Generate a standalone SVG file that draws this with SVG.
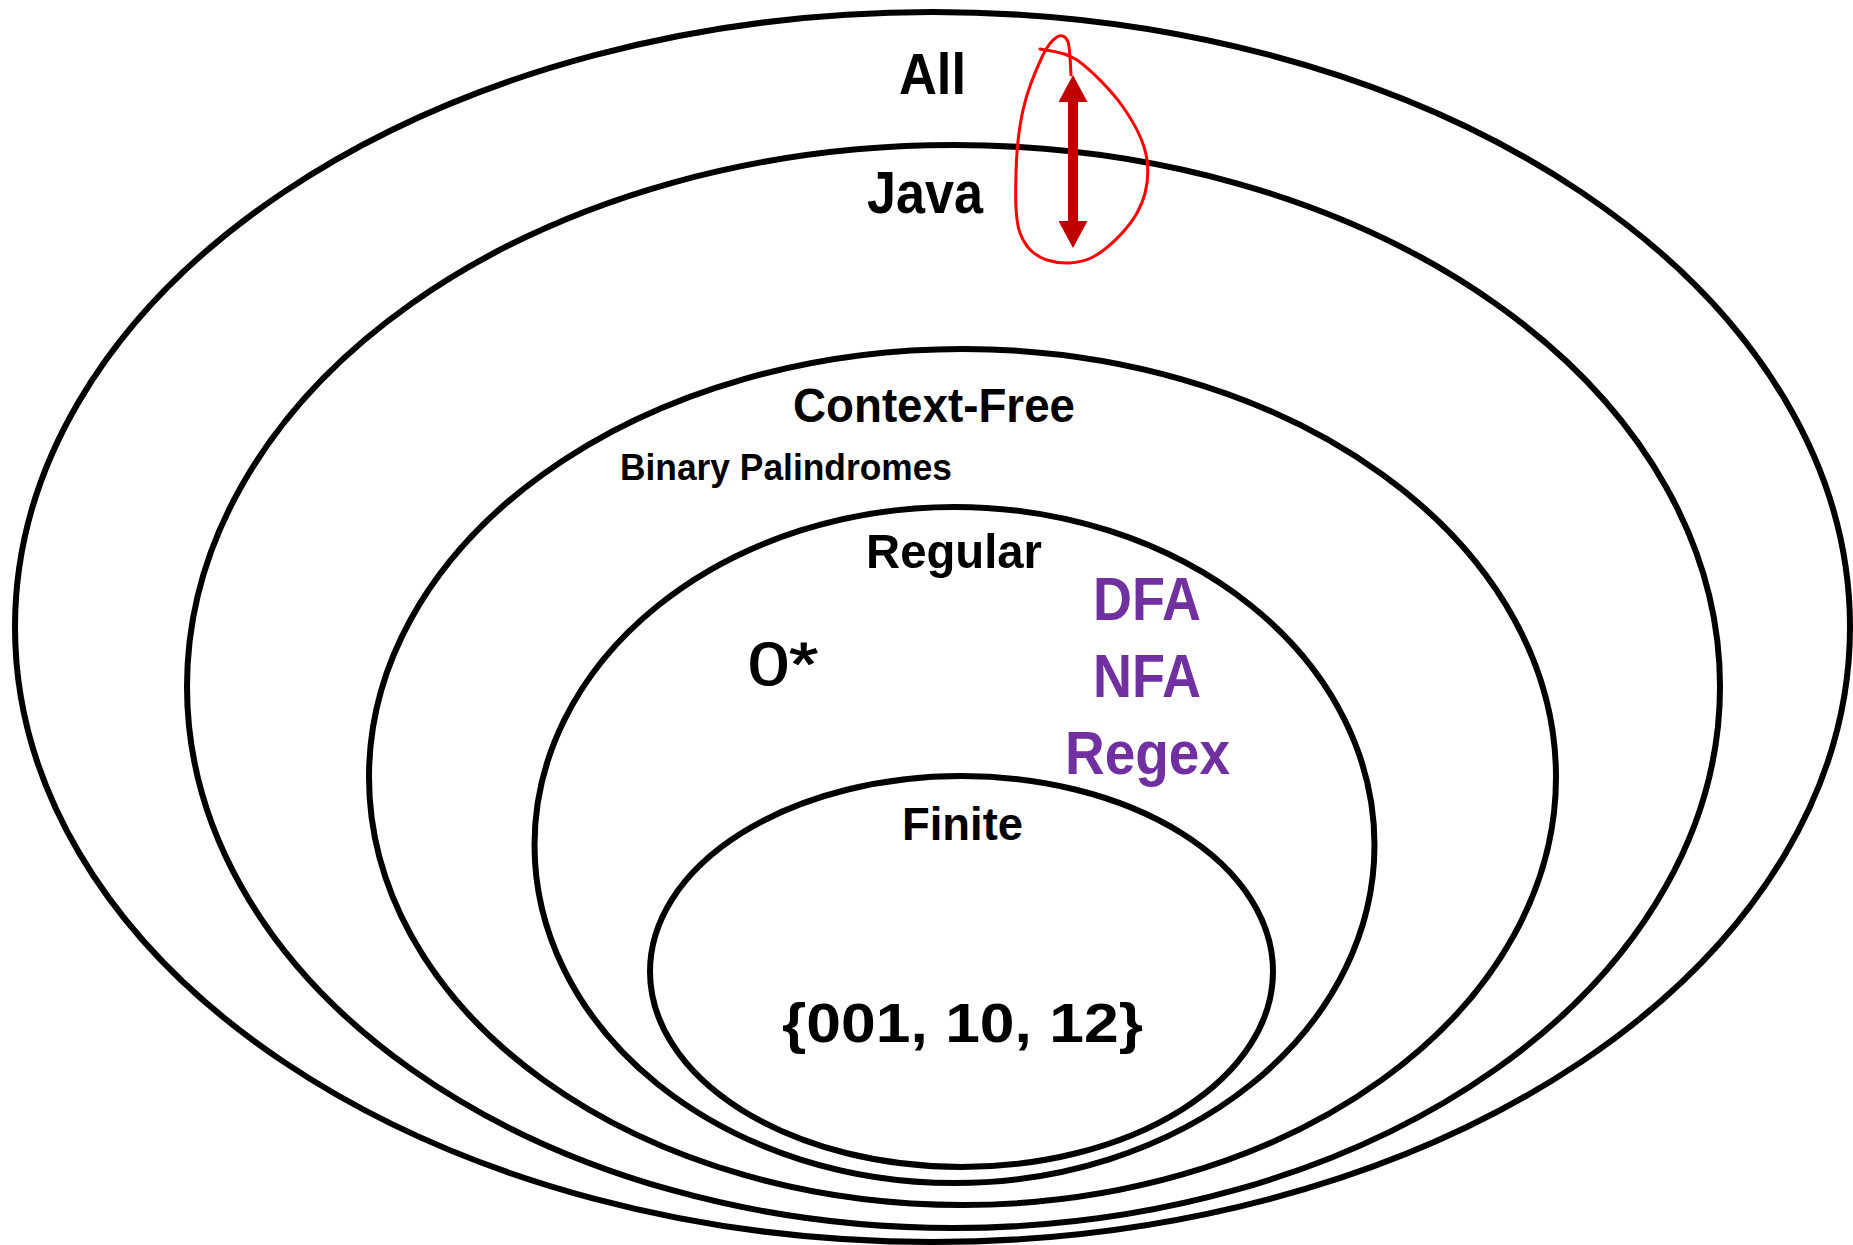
<svg xmlns="http://www.w3.org/2000/svg" width="1853" height="1245" viewBox="0 0 1853 1245">
<style>
.set{fill:none;stroke:#000;stroke-width:6}
.lbl{font-family:"Liberation Sans",Arial,sans-serif;font-weight:bold;fill:#000}
.reg{font-family:"Liberation Sans",Arial,sans-serif;font-weight:normal;fill:#000;stroke:#000;stroke-width:1.2}
.pur{font-family:"Liberation Sans",Arial,sans-serif;font-weight:bold;fill:#7030A0}
</style>
<defs>
<marker id="head" viewBox="0 0 27 29" refX="7" refY="14.5" markerWidth="27" markerHeight="29" markerUnits="userSpaceOnUse" orient="auto-start-reverse">
<path d="M0,0 L27,14.5 L0,29 z" fill="#C00000"/>
</marker>
</defs>
<rect width="1853" height="1245" fill="#fff"/>
<g id="all">
<ellipse class="set" cx="932.5" cy="627" rx="917.5" ry="615"/>
<text class="lbl" x="899" y="94" font-size="58" textLength="67" lengthAdjust="spacingAndGlyphs">All</text>
</g>
<g id="java">
<ellipse class="set" cx="953.5" cy="686.5" rx="766.5" ry="541.5"/>
<text class="lbl" x="867" y="213" font-size="60" textLength="116" lengthAdjust="spacingAndGlyphs">Java</text>
</g>
<g id="context-free">
<ellipse class="set" cx="962.5" cy="777" rx="593.5" ry="428"/>
<text class="lbl" x="793" y="422" font-size="49" textLength="282" lengthAdjust="spacingAndGlyphs">Context-Free</text>
<text class="lbl" x="620" y="480" font-size="37.5" textLength="332" lengthAdjust="spacingAndGlyphs">Binary Palindromes</text>
</g>
<g id="regular">
<ellipse class="set" cx="954.5" cy="845" rx="420" ry="338"/>
<text class="lbl" x="866" y="568" font-size="49" textLength="176" lengthAdjust="spacingAndGlyphs">Regular</text>
<text class="reg" x="748" y="685" font-size="61" textLength="70" lengthAdjust="spacingAndGlyphs">0*</text>
<text class="pur" x="1093" y="620" font-size="61" textLength="108" lengthAdjust="spacingAndGlyphs">DFA</text>
<text class="pur" x="1093" y="697" font-size="61" textLength="108" lengthAdjust="spacingAndGlyphs">NFA</text>
<text class="pur" x="1065" y="774" font-size="61" textLength="165" lengthAdjust="spacingAndGlyphs">Regex</text>
</g>
<g id="finite">
<ellipse class="set" cx="961.5" cy="971.5" rx="311.5" ry="195.5"/>
<text class="lbl" x="902" y="840" font-size="46" textLength="121" lengthAdjust="spacingAndGlyphs">Finite</text>
<text class="lbl" x="782" y="1042" font-size="56" textLength="361" lengthAdjust="spacingAndGlyphs">{001, 10, 12}</text>
</g>
<g id="connectors">
<line x1="1073" y1="95" x2="1073" y2="228" stroke="#C00000" stroke-width="10" marker-start="url(#head)" marker-end="url(#head)"/>
<path d="M1040,49 C1046.2,50.8 1063.2,50.3 1077,60 C1090.8,69.7 1111.3,90.3 1123,107 C1134.7,123.7 1144.7,142.3 1147,160 C1149.3,177.7 1146,196.8 1137,213 C1128,229.2 1108,249.2 1093,257 C1078,264.8 1059.2,264 1047,260 C1034.8,256 1025.2,247.5 1020,233 C1014.8,218.5 1015.5,193.5 1016,173 C1016.5,152.5 1018.7,129.3 1023,110 C1027.3,90.7 1036.3,69.2 1042,57 C1047.7,44.8 1052.7,39.5 1057,37 C1061.3,34.5 1065.7,35.7 1068,42 C1070.3,48.3 1070.5,69.5 1071,75" fill="none" stroke="#FF0000" stroke-width="3" stroke-linecap="round" stroke-linejoin="round"/>
</g>
</svg>
